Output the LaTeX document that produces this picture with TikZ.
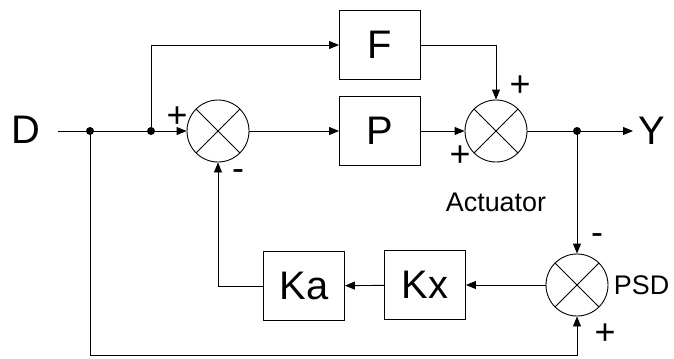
\documentclass[tikz,border=0pt]{standalone}
\usepackage{fontspec}
\setmainfont{Liberation Sans}
\usetikzlibrary{arrows.meta, positioning}
\tikzset{
	blockbox/.style={draw, line width=0.9bp, minimum width=81bp, minimum height=69bp, inner sep=0pt, font=\fontsize{40}{42}\selectfont}
}
\tikzset{
	sumnode/.style={draw, circle, line width=0.9bp, minimum size=62bp, inner sep=0pt}
}
\tikzset{
	signtext/.style={font=\fontsize{36}{38}\selectfont, inner sep=0pt}
}
\tikzset{
	bigtext/.style={font=\fontsize{40}{42}\selectfont, inner sep=0pt}
}
\tikzset{
	dotnode/.style={circle, fill, minimum size=8bp, inner sep=0pt}
}

\begin{document}
\begin{tikzpicture}[x=1bp, y=-1bp, line width=0.9bp, >={Triangle[length=10bp, width=8bp]}]
      \useasboundingbox (0,0) rectangle (674,358);
      \node[bigtext] (d) at (26,130) {D};
      \coordinate (din) at (58,131);
      \node[dotnode] (ja) at (90,131) {};
      \node[dotnode] (jb) at (151,131) {};
      \node[sumnode] (s1) at (218,131) {};
      \node[blockbox] (f) at (380,45) {F};
      \node[blockbox] (p) at (380,131) {P};
      \node[sumnode] (s2) at (496,131) {};
      \node[dotnode] (jc) at (577,131) {};
      \coordinate (yout) at (633,131);
      \node[bigtext] (y) at (652,131) {Y};
      \node[font=\fontsize{27}{29}\selectfont, inner sep=0pt] (act) at (496,202) {Actuator};
      \node[sumnode] (psd) at (577,285) {};
      \node[font=\fontsize{27}{29}\selectfont, inner sep=0pt, right=5bp of psd] (psdtext) {PSD};
      \node[blockbox] (kx) at (425,285) {Kx};
      \node[blockbox] (ka) at (304,286) {Ka};
      \coordinate (low) at (0,355);
      % crosses in the summing points
      \foreach \s in {s1,s2,psd}
        \draw (\s.north east) -- (\s.south west) (\s.north west) -- (\s.south east);
      % signs
      \node[signtext] (s1plus) at (177,117) {+};
      \node[signtext] (s1minus) at (238,175) {-};
      \node[signtext] (s2plusa) at (520,86) {+};
      \node[signtext] (s2plusb) at (460,156) {+};
      \node[signtext] (psdminus) at (597,239) {-};
      \node[signtext] (psdplus) at (605,334) {+};
      % connectors
      \draw (din) -- (ja) -- (jb);
      \draw[->] (jb) -- (s1);
      \draw[->] (jb) |- (f);
      \draw[->] (s1) -- (p);
      \draw[->] (p) -- (s2);
      \draw[->] (f) -| (s2);
      \draw (s2) -- (jc);
      \draw[->] (jc) -- (yout);
      \draw[->] (jc) -- (psd);
      \draw[->] (psd) -- (kx);
      \draw[->] (kx) -- (ka);
      \draw[->] (ka) -| (s1);
      \draw[->] (ja) -- (ja |- low) -| (psd);
    \end{tikzpicture}
\end{document}
